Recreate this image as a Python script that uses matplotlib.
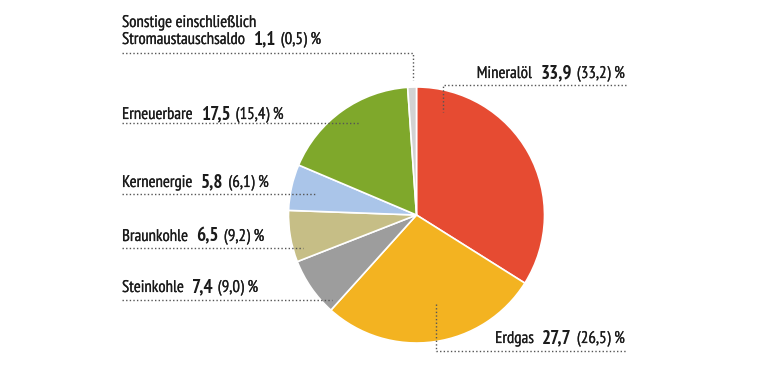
import matplotlib
matplotlib.use("Agg")
import matplotlib.pyplot as plt
from matplotlib import font_manager
import matplotlib.patheffects as pe

# ---- data ----
categories = ["Mineralöl", "Erdgas", "Steinkohle", "Braunkohle", "Kernenergie",
              "Erneuerbare", "Sonstige einschließlich\nStromaustauschsaldo"]
values = [33.9, 27.7, 7.4, 6.5, 5.8, 17.5, 1.1]
values_prev = [33.2, 26.5, 9.0, 9.2, 6.1, 15.4, 0.5]
colors = ["#E64B32", "#F3B321", "#9D9D9D", "#C6BE86", "#AAC5E9", "#7FA82B", "#D2D2D2"]

W, H = 760, 379
avail = {f.name for f in font_manager.fontManager.ttflist}
FONT = next((f for f in ["PT Sans Narrow", "Roboto Condensed", "Archivo Narrow",
                         "Fira Sans Condensed"] if f in avail), "DejaVu Sans")
plt.rcParams['font.family'] = [FONT, 'DejaVu Sans']

fig = plt.figure(figsize=(W / 100, H / 100), dpi=100)
ax = fig.add_axes([0, 0, 1, 1])

def Y(py):
    return H - py

cx, cy, r = 416.5, 215, 128
ax.pie(values, colors=colors, startangle=90, counterclock=False,
       center=(cx, Y(cy)), radius=r, frame=True,
       wedgeprops=dict(edgecolor="white", linewidth=1.2))
ax.set_xlim(0, W)
ax.set_ylim(0, H)
ax.set_aspect('equal')
ax.axis('off')

renderer = fig.canvas.get_renderer()
TXT = "#1b1b1b"
HEAVY = [pe.withStroke(linewidth=0.15, foreground=TXT)]

def width(s, fs, fw):
    t = ax.text(0, 0, s, fontsize=fs, fontweight=fw)
    w = t.get_window_extent(renderer).width
    t.remove()
    return w

# calibrate sizes to the reference text widths
NS = 10 * 71 / width("Erneuerbare", 10, "normal")
BS = 10 * 30 / width("17,5", 10, "bold")
G1, G2 = 8, 5

def fmt(v):
    return f"{v:.1f}".replace(".", ",")

def label(x, py, name, v, vp, align="left"):
    parts = [(name, NS, "normal"), (fmt(v), BS, "bold"), (f"({fmt(vp)}) %", NS, "normal")]
    widths = [width(s, fs, fw) for s, fs, fw in parts]
    gaps = [G1, G2, 0]
    total = sum(widths) + G1 + G2
    start = x - total if align == "right" else x
    for (s, fs, fw), w, g in zip(parts, widths, gaps):
        ax.text(start, Y(py), s, fontsize=fs, fontweight=fw, color=TXT,
                ha="left", va="baseline",
                path_effects=HEAVY if fw == "normal" else None)
        start += w + g

LS = dict(color="#555555", linewidth=1.0, linestyle=(0, (1, 1.6)))

def line(xs, pys):
    ax.plot(xs, [Y(p) for p in pys], **LS)

# Sonstige (two lines)
ax.text(122, Y(27), categories[6].split("\n")[0], fontsize=NS, color=TXT,
        ha="left", va="baseline", path_effects=HEAVY)
label(122, 44, categories[6].split("\n")[1], values[6], values_prev[6])
line([122, 413, 413], [53, 53, 80])

# Mineralöl
label(625, 78, categories[0], values[0], values_prev[0], align="right")
line([626, 443, 443], [85, 85, 112])

# Erneuerbare
label(122, 119, categories[5], values[5], values_prev[5])
line([122, 359], [123, 123])

# Kernenergie
label(122, 187, categories[4], values[4], values_prev[4])
line([122, 317], [194, 194])

# Braunkohle
label(122, 241, categories[3], values[3], values_prev[3])
line([122, 303], [248, 248])

# Steinkohle
label(122, 292, categories[2], values[2], values_prev[2])
line([122, 332], [300, 300])

# Erdgas
label(625, 343, categories[1], values[1], values_prev[1], align="right")
line([436, 436, 626], [304, 351, 351])

fig.savefig("out.png", dpi=100)
